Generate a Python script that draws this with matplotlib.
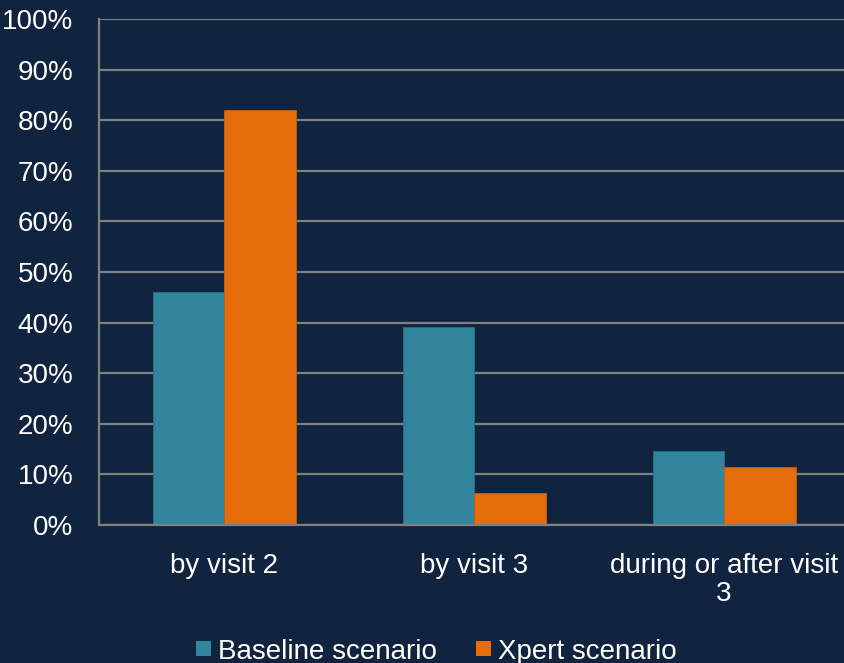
import numpy as np
import matplotlib
matplotlib.use("Agg")
import matplotlib.pyplot as plt
from matplotlib.patches import Patch

categories = ["by visit 2", "by visit 3", "during or after visit\n3"]
baseline = [46.0, 39.1, 14.6]
xpert = [82.0, 6.3, 11.5]
series_names = ["Baseline scenario", "Xpert scenario"]

BG = "#10243F"
TEAL = "#31859C"
ORANGE = "#E46C0A"
GRID = "#808080"

plt.rcParams["font.family"] = ["Liberation Sans", "DejaVu Sans"]

fig = plt.figure(figsize=(8.44, 6.63), dpi=100, facecolor=BG)
ax = fig.add_axes([99 / 844, 1 - 525 / 663, 750 / 844, 506 / 663])
ax.set_facecolor(BG)

x = np.arange(len(categories))
w = 0.286
ax.bar(x - w / 2, baseline, w, color=TEAL, zorder=3, edgecolor="#2a6f82", linewidth=0.6)
ax.bar(x + w / 2, xpert, w, color=ORANGE, zorder=3, edgecolor="#c85d08", linewidth=0.6)

ax.set_xlim(-0.5, 2.5)
ax.set_ylim(0, 100)
ax.set_yticks(np.arange(0, 101, 10))
ax.set_yticklabels([f"{v}%" for v in range(0, 101, 10)])
ax.yaxis.grid(True, color=GRID, linewidth=1.6, zorder=0)
ax.set_axisbelow(True)
ax.set_xticks(x)
ax.set_xticklabels(categories, linespacing=1.1)

for s in ["top", "right"]:
    ax.spines[s].set_visible(False)
ax.spines["left"].set_color(GRID)
ax.spines["left"].set_linewidth(1.6)
ax.spines["bottom"].set_color(GRID)
ax.spines["bottom"].set_linewidth(1.6)
ax.spines["bottom"].set_zorder(4)

ax.tick_params(axis="y", length=0, pad=18.5, labelsize=20, labelcolor="white")
ax.tick_params(axis="x", length=0, pad=20, labelsize=20, labelcolor="white")

handles = [Patch(facecolor=TEAL), Patch(facecolor=ORANGE)]
fig.legend(handles, series_names, loc="lower center", bbox_to_anchor=(0.5166, -0.04),
           ncol=2, frameon=False, fontsize=20, labelcolor="white",
           handlelength=0.54, handleheight=0.47, handletextpad=0.25, columnspacing=1.4)

fig.savefig("out.png", dpi=100, facecolor=BG)
